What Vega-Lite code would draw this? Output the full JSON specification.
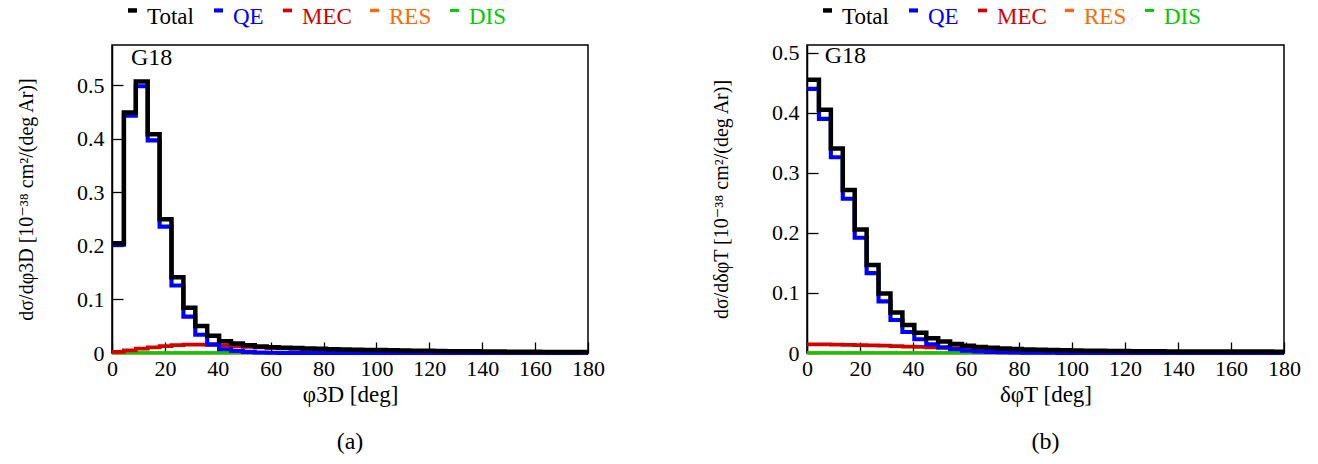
{
  "$schema": "https://vega.github.io/schema/vega-lite/v6.json",
  "padding": {"left": 15, "top": 4, "right": 10, "bottom": 5},
  "bounds": "flush",
  "spacing": 219,
  "config": {
    "font": "Liberation Serif, Times New Roman, DejaVu Serif, serif",
    "view": {"stroke": "black", "strokeWidth": 1.5},
    "axis": {"domainColor": "black", "domainWidth": 1.5, "tickColor": "black", "tickWidth": 1.3, "tickSize": -11, "labelColor": "black", "titleColor": "black", "labelFont": "Liberation Serif, Times New Roman, DejaVu Serif, serif", "titleFont": "Liberation Serif, Times New Roman, DejaVu Serif, serif", "labelFontSize": 22, "titleFontSize": 23, "titleFontWeight": "normal", "grid": false, "labelFlush": false},
    "axisX": {"labelPadding": 16, "titlePadding": 4},
    "axisY": {"labelPadding": 19, "titlePadding": 40, "titleFontSize": 20},
    "title": {"font": "Liberation Serif, Times New Roman, DejaVu Serif, serif", "fontSize": 24, "fontWeight": "normal", "color": "black"}
  },
  "datasets": {
    "a": [
      {"x":0,"Total":0.2048,"QE":0.202,"MEC":0.002,"RES":0.0002,"DIS":0.0006},
      {"x":4.5,"Total":0.4488,"QE":0.443,"MEC":0.005,"RES":0.0002,"DIS":0.0006},
      {"x":9,"Total":0.5068,"QE":0.498,"MEC":0.008,"RES":0.0002,"DIS":0.0006},
      {"x":13.5,"Total":0.4083,"QE":0.397,"MEC":0.0105,"RES":0.0002,"DIS":0.0006},
      {"x":18,"Total":0.2496,"QE":0.236,"MEC":0.0128,"RES":0.0002,"DIS":0.0006},
      {"x":22.5,"Total":0.1413,"QE":0.126,"MEC":0.0145,"RES":0.0002,"DIS":0.0006},
      {"x":27,"Total":0.0843,"QE":0.068,"MEC":0.0155,"RES":0.0002,"DIS":0.0006},
      {"x":31.5,"Total":0.0506,"QE":0.034,"MEC":0.0158,"RES":0.0002,"DIS":0.0006},
      {"x":36,"Total":0.032,"QE":0.016,"MEC":0.0152,"RES":0.0002,"DIS":0.0006},
      {"x":40.5,"Total":0.022,"QE":0.007,"MEC":0.0142,"RES":0.0002,"DIS":0.0006},
      {"x":45,"Total":0.0176,"QE":0.004,"MEC":0.0128,"RES":0.0002,"DIS":0.0006},
      {"x":49.5,"Total":0.0143,"QE":0.002,"MEC":0.0115,"RES":0.0002,"DIS":0.0006},
      {"x":54,"Total":0.0122,"QE":0.001,"MEC":0.0104,"RES":0.0002,"DIS":0.0006},
      {"x":58.5,"Total":0.0109,"QE":0.0005,"MEC":0.0096,"RES":0.0002,"DIS":0.0006},
      {"x":63,"Total":0.0100,"QE":0.0003,"MEC":0.0089,"RES":0.0002,"DIS":0.0006},
      {"x":67.5,"Total":0.0092,"QE":0.0002,"MEC":0.0082,"RES":0.0002,"DIS":0.0006},
      {"x":72,"Total":0.0085,"QE":0.0001,"MEC":0.0076,"RES":0.0002,"DIS":0.0006},
      {"x":76.5,"Total":0.0078,"QE":0,"MEC":0.0070,"RES":0.0002,"DIS":0.0006},
      {"x":81,"Total":0.0072,"QE":0,"MEC":0.0064,"RES":0.0002,"DIS":0.0006},
      {"x":85.5,"Total":0.0067,"QE":0,"MEC":0.0059,"RES":0.0002,"DIS":0.0006},
      {"x":90,"Total":0.0062,"QE":0,"MEC":0.0054,"RES":0.0002,"DIS":0.0006},
      {"x":94.5,"Total":0.0058,"QE":0,"MEC":0.0050,"RES":0.0002,"DIS":0.0006},
      {"x":99,"Total":0.0054,"QE":0,"MEC":0.0046,"RES":0.0002,"DIS":0.0006},
      {"x":103.5,"Total":0.0050,"QE":0,"MEC":0.0042,"RES":0.0002,"DIS":0.0006},
      {"x":108,"Total":0.0046,"QE":0,"MEC":0.0038,"RES":0.0002,"DIS":0.0006},
      {"x":112.5,"Total":0.0043,"QE":0,"MEC":0.0035,"RES":0.0002,"DIS":0.0006},
      {"x":117,"Total":0.0040,"QE":0,"MEC":0.0032,"RES":0.0002,"DIS":0.0006},
      {"x":121.5,"Total":0.0037,"QE":0,"MEC":0.0029,"RES":0.0002,"DIS":0.0006},
      {"x":126,"Total":0.0035,"QE":0,"MEC":0.0027,"RES":0.0002,"DIS":0.0006},
      {"x":130.5,"Total":0.0033,"QE":0,"MEC":0.0025,"RES":0.0002,"DIS":0.0006},
      {"x":135,"Total":0.0031,"QE":0,"MEC":0.0023,"RES":0.0002,"DIS":0.0006},
      {"x":139.5,"Total":0.0029,"QE":0,"MEC":0.0021,"RES":0.0002,"DIS":0.0006},
      {"x":144,"Total":0.0027,"QE":0,"MEC":0.0019,"RES":0.0002,"DIS":0.0006},
      {"x":148.5,"Total":0.0025,"QE":0,"MEC":0.0017,"RES":0.0002,"DIS":0.0006},
      {"x":153,"Total":0.0024,"QE":0,"MEC":0.0016,"RES":0.0002,"DIS":0.0006},
      {"x":157.5,"Total":0.0022,"QE":0,"MEC":0.0014,"RES":0.0002,"DIS":0.0006},
      {"x":162,"Total":0.0021,"QE":0,"MEC":0.0013,"RES":0.0002,"DIS":0.0006},
      {"x":166.5,"Total":0.0020,"QE":0,"MEC":0.0012,"RES":0.0002,"DIS":0.0006},
      {"x":171,"Total":0.0019,"QE":0,"MEC":0.0011,"RES":0.0002,"DIS":0.0006},
      {"x":175.5,"Total":0.0018,"QE":0,"MEC":0.0010,"RES":0.0002,"DIS":0.0006},
      {"x":180,"Total":0.0018,"QE":0,"MEC":0.0010,"RES":0.0002,"DIS":0.0006}
    ],
    "b": [
      {"x":0,"Total":0.4553,"QE":0.440,"MEC":0.0145,"RES":0.0002,"DIS":0.0006},
      {"x":4.5,"Total":0.4050,"QE":0.390,"MEC":0.0142,"RES":0.0002,"DIS":0.0006},
      {"x":9,"Total":0.3407,"QE":0.326,"MEC":0.0139,"RES":0.0002,"DIS":0.0006},
      {"x":13.5,"Total":0.2713,"QE":0.257,"MEC":0.0135,"RES":0.0002,"DIS":0.0006},
      {"x":18,"Total":0.2059,"QE":0.192,"MEC":0.0131,"RES":0.0002,"DIS":0.0006},
      {"x":22.5,"Total":0.1464,"QE":0.133,"MEC":0.0126,"RES":0.0002,"DIS":0.0006},
      {"x":27,"Total":0.0989,"QE":0.086,"MEC":0.0121,"RES":0.0002,"DIS":0.0006},
      {"x":31.5,"Total":0.0673,"QE":0.055,"MEC":0.0115,"RES":0.0002,"DIS":0.0006},
      {"x":36,"Total":0.0466,"QE":0.035,"MEC":0.0108,"RES":0.0002,"DIS":0.0006},
      {"x":40.5,"Total":0.0339,"QE":0.023,"MEC":0.0101,"RES":0.0002,"DIS":0.0006},
      {"x":45,"Total":0.0247,"QE":0.0145,"MEC":0.0094,"RES":0.0002,"DIS":0.0006},
      {"x":49.5,"Total":0.0190,"QE":0.0095,"MEC":0.0087,"RES":0.0002,"DIS":0.0006},
      {"x":54,"Total":0.0150,"QE":0.0062,"MEC":0.0080,"RES":0.0002,"DIS":0.0006},
      {"x":58.5,"Total":0.0121,"QE":0.0040,"MEC":0.0073,"RES":0.0002,"DIS":0.0006},
      {"x":63,"Total":0.0100,"QE":0.0026,"MEC":0.0066,"RES":0.0002,"DIS":0.0006},
      {"x":67.5,"Total":0.0086,"QE":0.0018,"MEC":0.0060,"RES":0.0002,"DIS":0.0006},
      {"x":72,"Total":0.0074,"QE":0.0012,"MEC":0.0054,"RES":0.0002,"DIS":0.0006},
      {"x":76.5,"Total":0.0066,"QE":0.0009,"MEC":0.0049,"RES":0.0002,"DIS":0.0006},
      {"x":81,"Total":0.0060,"QE":0.0007,"MEC":0.0045,"RES":0.0002,"DIS":0.0006},
      {"x":85.5,"Total":0.0054,"QE":0.0005,"MEC":0.0041,"RES":0.0002,"DIS":0.0006},
      {"x":90,"Total":0.0049,"QE":0.0004,"MEC":0.0037,"RES":0.0002,"DIS":0.0006},
      {"x":94.5,"Total":0.0045,"QE":0.0003,"MEC":0.0034,"RES":0.0002,"DIS":0.0006},
      {"x":99,"Total":0.0041,"QE":0.0002,"MEC":0.0031,"RES":0.0002,"DIS":0.0006},
      {"x":103.5,"Total":0.0039,"QE":0.0002,"MEC":0.0029,"RES":0.0002,"DIS":0.0006},
      {"x":108,"Total":0.0036,"QE":0.0001,"MEC":0.0027,"RES":0.0002,"DIS":0.0006},
      {"x":112.5,"Total":0.0034,"QE":0.0001,"MEC":0.0025,"RES":0.0002,"DIS":0.0006},
      {"x":117,"Total":0.0032,"QE":0.0001,"MEC":0.0023,"RES":0.0002,"DIS":0.0006},
      {"x":121.5,"Total":0.0031,"QE":0.0001,"MEC":0.0022,"RES":0.0002,"DIS":0.0006},
      {"x":126,"Total":0.0029,"QE":0,"MEC":0.0021,"RES":0.0002,"DIS":0.0006},
      {"x":130.5,"Total":0.0028,"QE":0,"MEC":0.0020,"RES":0.0002,"DIS":0.0006},
      {"x":135,"Total":0.0027,"QE":0,"MEC":0.0019,"RES":0.0002,"DIS":0.0006},
      {"x":139.5,"Total":0.0026,"QE":0,"MEC":0.0018,"RES":0.0002,"DIS":0.0006},
      {"x":144,"Total":0.0025,"QE":0,"MEC":0.0017,"RES":0.0002,"DIS":0.0006},
      {"x":148.5,"Total":0.0025,"QE":0,"MEC":0.0017,"RES":0.0002,"DIS":0.0006},
      {"x":153,"Total":0.0024,"QE":0,"MEC":0.0016,"RES":0.0002,"DIS":0.0006},
      {"x":157.5,"Total":0.0024,"QE":0,"MEC":0.0016,"RES":0.0002,"DIS":0.0006},
      {"x":162,"Total":0.0023,"QE":0,"MEC":0.0015,"RES":0.0002,"DIS":0.0006},
      {"x":166.5,"Total":0.0023,"QE":0,"MEC":0.0015,"RES":0.0002,"DIS":0.0006},
      {"x":171,"Total":0.0023,"QE":0,"MEC":0.0015,"RES":0.0002,"DIS":0.0006},
      {"x":175.5,"Total":0.0022,"QE":0,"MEC":0.0014,"RES":0.0002,"DIS":0.0006},
      {"x":180,"Total":0.0022,"QE":0,"MEC":0.0014,"RES":0.0002,"DIS":0.0006}
    ]
  },
  "hconcat": [
    {
      "width": 476,
      "height": 308,
      "title": {"text": "(a)", "orient": "bottom", "frame": "group", "offset": 24},
      "layer": [
        {
          "data": {"name": "a"},
          "transform": [{"fold": ["RES", "DIS", "MEC", "QE", "Total"], "as": ["series", "v"]}],
          "mark": {"type": "line", "interpolate": "step-after", "strokeJoin": "miter", "strokeCap": "butt"},
          "encoding": {
            "x": {"field": "x", "type": "quantitative", "scale": {"domain": [0, 180], "nice": false, "zero": false}, "axis": {"values": [0, 20, 40, 60, 80, 100, 120, 140, 160, 180], "title": "φ3D [deg]"}},
            "y": {"field": "v", "type": "quantitative", "scale": {"domain": [0, 0.575], "nice": false}, "axis": {"values": [0, 0.1, 0.2, 0.3, 0.4, 0.5], "labelExpr": "datum.value == 0 ? '0' : format(datum.value, '.1f')", "title": "dσ/dφ3D [10⁻³⁸ cm²/(deg Ar)]"}},
            "color": {"field": "series", "type": "nominal", "scale": {"domain": ["Total", "QE", "MEC", "RES", "DIS"], "range": ["#000000", "#0000ff", "#d40000", "#ff6a00", "#00cc00"]},
              "legend": {"orient": "none", "legendX": 9, "legendY": -40, "direction": "horizontal", "title": null, "labelFont": "Liberation Serif, Times New Roman, DejaVu Serif, serif", "labelFontSize": 23, "symbolType": "M-1,-1.4H1", "symbolSize": 81, "symbolStrokeWidth": 3.5, "labelOffset": 3, "columnPadding": 11, "padding": 0,
                "encode": {"labels": {"update": {"fill": {"signal": "datum.value === 'Total' ? '#000000' : datum.value === 'QE' ? '#0000ff' : datum.value === 'MEC' ? '#d40000' : datum.value === 'RES' ? '#ff6a00' : '#00cc00'"}}}}}},
            "strokeWidth": {"field": "series", "type": "nominal", "scale": {"domain": ["Total", "QE", "MEC", "RES", "DIS"], "range": [4.5, 3, 3, 3, 2.5]}, "legend": null}
          }
        },
        {
          "data": {"values": [{"label": "G18"}]},
          "mark": {"type": "text", "align": "left", "baseline": "middle", "fontSize": 24, "font": "Liberation Serif, Times New Roman, DejaVu Serif, serif", "color": "black"},
          "encoding": {"x": {"datum": 7.2}, "y": {"datum": 0.551}, "text": {"field": "label"}}
        }
      ]
    },
    {
      "width": 477,
      "height": 308,
      "title": {"text": "(b)", "orient": "bottom", "frame": "group", "offset": 24},
      "layer": [
        {
          "data": {"name": "b"},
          "transform": [{"fold": ["RES", "DIS", "MEC", "QE", "Total"], "as": ["series", "v"]}],
          "mark": {"type": "line", "interpolate": "step-after", "strokeJoin": "miter", "strokeCap": "butt"},
          "encoding": {
            "x": {"field": "x", "type": "quantitative", "scale": {"domain": [0, 180], "nice": false, "zero": false}, "axis": {"values": [0, 20, 40, 60, 80, 100, 120, 140, 160, 180], "title": "δφT [deg]"}},
            "y": {"field": "v", "type": "quantitative", "scale": {"domain": [0, 0.513], "nice": false}, "axis": {"values": [0, 0.1, 0.2, 0.3, 0.4, 0.5], "labelExpr": "datum.value == 0 ? '0' : format(datum.value, '.1f')", "title": "dσ/dδφT [10⁻³⁸ cm²/(deg Ar)]"}},
            "color": {"field": "series", "type": "nominal", "scale": {"domain": ["Total", "QE", "MEC", "RES", "DIS"], "range": ["#000000", "#0000ff", "#d40000", "#ff6a00", "#00cc00"]},
              "legend": {"orient": "none", "legendX": 9, "legendY": -40, "direction": "horizontal", "title": null, "labelFont": "Liberation Serif, Times New Roman, DejaVu Serif, serif", "labelFontSize": 23, "symbolType": "M-1,-1.4H1", "symbolSize": 81, "symbolStrokeWidth": 3.5, "labelOffset": 3, "columnPadding": 11, "padding": 0,
                "encode": {"labels": {"update": {"fill": {"signal": "datum.value === 'Total' ? '#000000' : datum.value === 'QE' ? '#0000ff' : datum.value === 'MEC' ? '#d40000' : datum.value === 'RES' ? '#ff6a00' : '#00cc00'"}}}}}},
            "strokeWidth": {"field": "series", "type": "nominal", "scale": {"domain": ["Total", "QE", "MEC", "RES", "DIS"], "range": [4.5, 3, 3, 3, 2.5]}, "legend": null}
          }
        },
        {
          "data": {"values": [{"label": "G18"}]},
          "mark": {"type": "text", "align": "left", "baseline": "middle", "fontSize": 24, "font": "Liberation Serif, Times New Roman, DejaVu Serif, serif", "color": "black"},
          "encoding": {"x": {"datum": 6.7}, "y": {"datum": 0.494}, "text": {"field": "label"}}
        }
      ]
    }
  ],
  "resolve": {"scale": {"color": "independent", "strokeWidth": "independent", "x": "independent", "y": "independent"}, "legend": {"color": "independent"}}
}
